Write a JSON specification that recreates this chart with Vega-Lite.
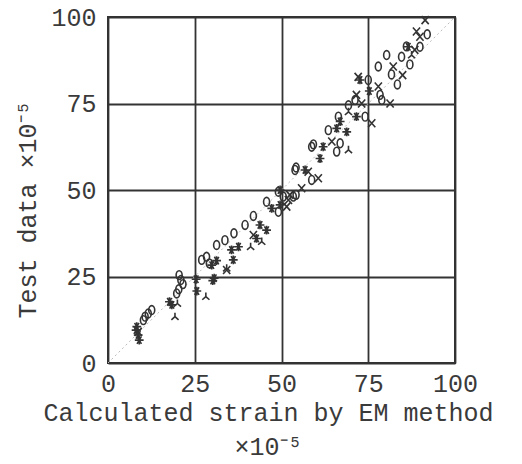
{
  "$schema": "https://vega.github.io/schema/vega-lite/v6.json",
  "autosize": "none",
  "width": 347,
  "height": 346,
  "padding": {"left": 108, "top": 17, "right": 67, "bottom": 101},
  "background": "white",
  "config": {
    "view": {"stroke": "#333", "strokeWidth": 2},
    "axis": {
      "labelFont": "Liberation Mono",
      "titleFont": "Liberation Mono",
      "labelFontSize": 25,
      "titleFontSize": 25,
      "titleFontWeight": "normal",
      "labelColor": "#3a3a3a",
      "titleColor": "#3a3a3a",
      "labelFlush": false,
      "grid": true,
      "gridColor": "#333",
      "gridWidth": 1.8,
      "gridOpacity": 1,
      "domain": false,
      "ticks": false
    }
  },
  "datasets": {
    "diag": [{"cx": 0, "cy": 0}, {"cx": 100, "cy": 100}],
    "pts": [
      {"m": "o", "cx": 20.5, "cy": 25.4}, {"m": "o", "cx": 21, "cy": 24}, {"m": "o", "cx": 21.6, "cy": 22.8},
      {"m": "o", "cx": 20.4, "cy": 21.3}, {"m": "o", "cx": 19.8, "cy": 20.1}, {"m": "o", "cx": 12.6, "cy": 15.3},
      {"m": "o", "cx": 11.6, "cy": 14.3}, {"m": "o", "cx": 10.7, "cy": 13.4}, {"m": "o", "cx": 10.2, "cy": 12.4},
      {"m": "o", "cx": 27, "cy": 29.8}, {"m": "o", "cx": 28.4, "cy": 30.7}, {"m": "o", "cx": 29.2, "cy": 28.8},
      {"m": "o", "cx": 31.3, "cy": 34.1}, {"m": "o", "cx": 33.7, "cy": 35.5}, {"m": "o", "cx": 36.3, "cy": 37.5},
      {"m": "o", "cx": 39.5, "cy": 39.9}, {"m": "o", "cx": 41.9, "cy": 42.5}, {"m": "o", "cx": 45.7, "cy": 46.6},
      {"m": "o", "cx": 49.1, "cy": 43.7}, {"m": "o", "cx": 49.1, "cy": 49.5}, {"m": "o", "cx": 50.5, "cy": 48.1},
      {"m": "o", "cx": 53.4, "cy": 48.1}, {"m": "o", "cx": 54.2, "cy": 48.6}, {"m": "o", "cx": 53.9, "cy": 55.8},
      {"m": "o", "cx": 54.2, "cy": 56.5}, {"m": "o", "cx": 58.7, "cy": 52.9}, {"m": "o", "cx": 58.7, "cy": 62.5},
      {"m": "o", "cx": 59.2, "cy": 63.2}, {"m": "o", "cx": 66.9, "cy": 63.5}, {"m": "o", "cx": 65.9, "cy": 61.1},
      {"m": "o", "cx": 63.5, "cy": 67.3}, {"m": "o", "cx": 66.4, "cy": 71.2}, {"m": "o", "cx": 69.3, "cy": 74.5},
      {"m": "o", "cx": 74.1, "cy": 71.2}, {"m": "o", "cx": 75, "cy": 81.8}, {"m": "o", "cx": 78.4, "cy": 77.5},
      {"m": "o", "cx": 78.9, "cy": 76}, {"m": "o", "cx": 71.2, "cy": 76}, {"m": "o", "cx": 77.9, "cy": 85.7},
      {"m": "o", "cx": 80.3, "cy": 89}, {"m": "o", "cx": 81.7, "cy": 83.4}, {"m": "o", "cx": 83.4, "cy": 80.5},
      {"m": "o", "cx": 84.6, "cy": 88.5}, {"m": "o", "cx": 86, "cy": 91.5}, {"m": "o", "cx": 87, "cy": 86.3},
      {"m": "o", "cx": 89.9, "cy": 91.4}, {"m": "o", "cx": 92, "cy": 95},
      {"m": "x", "cx": 8.7, "cy": 9}, {"m": "x", "cx": 34.2, "cy": 26.9}, {"m": "x", "cx": 41.9, "cy": 37},
      {"m": "x", "cx": 51.5, "cy": 45.2}, {"m": "x", "cx": 52.4, "cy": 48.6}, {"m": "x", "cx": 52, "cy": 47.1},
      {"m": "x", "cx": 55.8, "cy": 50.5}, {"m": "x", "cx": 57.7, "cy": 55.3}, {"m": "x", "cx": 60.6, "cy": 53.4},
      {"m": "x", "cx": 64.5, "cy": 64}, {"m": "x", "cx": 76, "cy": 69.3}, {"m": "x", "cx": 72.1, "cy": 82.7},
      {"m": "x", "cx": 71.6, "cy": 77.5}, {"m": "x", "cx": 77.9, "cy": 79.9}, {"m": "x", "cx": 81.3, "cy": 75},
      {"m": "x", "cx": 73.1, "cy": 75}, {"m": "x", "cx": 82.2, "cy": 85.7}, {"m": "x", "cx": 84.9, "cy": 83.2},
      {"m": "x", "cx": 88.4, "cy": 90.5}, {"m": "x", "cx": 88.9, "cy": 95.8}, {"m": "x", "cx": 89.9, "cy": 94.3},
      {"m": "x", "cx": 91.4, "cy": 99.1},
      {"m": "*", "cx": 8.3, "cy": 10.5}, {"m": "*", "cx": 8.1, "cy": 9.5}, {"m": "*", "cx": 8.7, "cy": 8.1},
      {"m": "*", "cx": 9, "cy": 6.6}, {"m": "*", "cx": 17.7, "cy": 17.7}, {"m": "*", "cx": 18.4, "cy": 16.8},
      {"m": "*", "cx": 25.4, "cy": 24.2}, {"m": "*", "cx": 25.6, "cy": 20.8}, {"m": "*", "cx": 30.6, "cy": 24.5},
      {"m": "*", "cx": 30.2, "cy": 23.8}, {"m": "*", "cx": 29.9, "cy": 28.3}, {"m": "*", "cx": 31.3, "cy": 29.6},
      {"m": "*", "cx": 35.6, "cy": 32.7}, {"m": "*", "cx": 37.6, "cy": 33.6}, {"m": "*", "cx": 36.1, "cy": 29.8},
      {"m": "*", "cx": 43.8, "cy": 39.9}, {"m": "*", "cx": 45.7, "cy": 38.4}, {"m": "*", "cx": 42.8, "cy": 36},
      {"m": "*", "cx": 47.2, "cy": 44.7}, {"m": "*", "cx": 49.6, "cy": 45.7}, {"m": "*", "cx": 49.6, "cy": 50},
      {"m": "*", "cx": 56.8, "cy": 55.8}, {"m": "*", "cx": 62, "cy": 62.5}, {"m": "*", "cx": 61.1, "cy": 59.1},
      {"m": "*", "cx": 65.9, "cy": 67.8}, {"m": "*", "cx": 68.8, "cy": 66.8}, {"m": "*", "cx": 66.9, "cy": 69.8},
      {"m": "*", "cx": 71.6, "cy": 71.2}, {"m": "*", "cx": 72.6, "cy": 81.8}, {"m": "*", "cx": 75.3, "cy": 78.6},
      {"m": "*", "cx": 86.5, "cy": 91.4},
      {"m": "y", "cx": 20, "cy": 17.2}, {"m": "y", "cx": 19.3, "cy": 13.4}, {"m": "y", "cx": 28.2, "cy": 19.2},
      {"m": "y", "cx": 34.2, "cy": 27.4}, {"m": "y", "cx": 41.1, "cy": 33.6}, {"m": "y", "cx": 44.3, "cy": 35.1},
      {"m": "y", "cx": 69.3, "cy": 61.6}, {"m": "y", "cx": 69.3, "cy": 72.6}, {"m": "y", "cx": 87.5, "cy": 89}
    ]
  },
  "layer": [
    {
      "data": {"name": "diag"},
      "mark": {"type": "line", "color": "#bbbbbb", "strokeWidth": 1, "strokeDash": [2, 3]},
      "encoding": {
        "x": {
          "field": "cx", "type": "quantitative",
          "scale": {"domain": [0, 100], "nice": false},
          "axis": {
            "values": [0, 25, 50, 75, 100],
            "labelPadding": 8,
            "title": ["Calculated strain by EM method", "×10⁻⁵"],
            "titleX": 160, "titleY": 37, "titleBaseline": "top", "titleAlign": "center",
            "titleLineHeight": 34
          }
        },
        "y": {
          "field": "cy", "type": "quantitative",
          "scale": {"domain": [0, 100], "nice": false},
          "axis": {
            "values": [0, 25, 50, 75, 100],
            "labelPadding": 12,
            "title": "Test data ×10⁻⁵",
            "titleAngle": -90, "titleX": -81, "titleY": 192,
            "titleAlign": "center", "titleBaseline": "middle"
          }
        }
      }
    },
    {
      "data": {"name": "pts"},
      "mark": {"type": "point", "filled": false, "strokeWidth": 1.6, "opacity": 1},
      "encoding": {
        "x": {"field": "cx", "type": "quantitative"},
        "y": {"field": "cy", "type": "quantitative"},
        "shape": {
          "field": "m", "type": "nominal", "legend": null,
          "scale": {
            "domain": ["o", "x", "*", "y"],
            "range": [
              "M0,-1.1A0.75,1.1,0,1,1,0,1.1A0.75,1.1,0,1,1,0,-1.1Z",
              "M-0.9,-1L0.9,1M-0.9,1L0.9,-1",
              "M-1.1,0L1.1,0M-0.55,-0.95L0.55,0.95M-0.55,0.95L0.55,-0.95M0,-1.1L0,1.1",
              "M0,0L0,-1M0,0L-0.9,0.8M0,0L0.9,0.8"
            ]
          }
        },
        "color": {"value": "#333333"},
        "size": {"value": 64}
      }
    }
  ]
}
